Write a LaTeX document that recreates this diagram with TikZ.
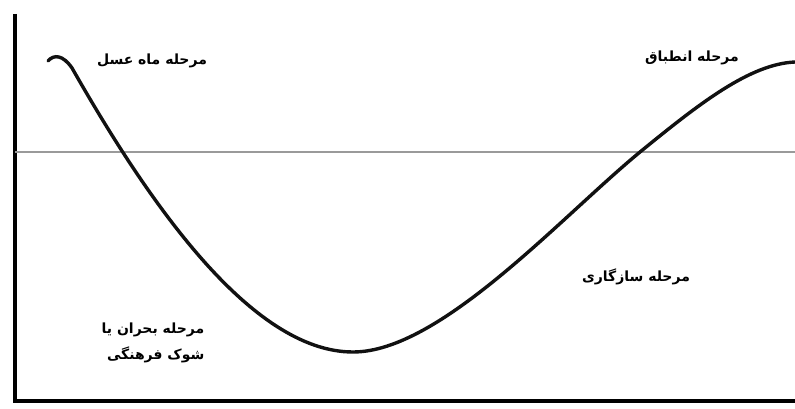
\documentclass[tikz,border=0pt]{standalone}
\usepackage{fontspec}
\newfontfamily\arabicfont[Script=Arabic]{DejaVu Sans}
\TeXXeTstate=1
\usepackage{tikz}
\definecolor{cCurve}{HTML}{111111}
\definecolor{cMid}{HTML}{9A9A9A}
\tikzset{
  axisline/.style={line width=4.5pt, draw=black},
  midline/.style={line width=1.4pt, draw=cMid},
  curveline/.style={line width=3.4pt, draw=cCurve, line cap=round},
  phase/.style={font=\arabicfont\bfseries\fontsize{14}{26}\selectfont, align=right, inner sep=1pt},
}
\begin{document}
\begin{tikzpicture}[x=1pt, y=-1pt]
\useasboundingbox (0,0) rectangle (795,409);
% axes
\coordinate (top) at (15,14);
\coordinate (origin) at (15,401);
\coordinate (xend) at (795,401);
\draw[axisline] (top) -- (origin) -- (xend);
% reference level
\coordinate (midL) at (15,152);
\coordinate (midR) at (795,152);
\draw[midline] (midL) -- (midR);
% adjustment curve
\coordinate (start) at (48,61);
\coordinate (hook) at (72,68);
\coordinate (low) at (353,352);
\coordinate (cross) at (640,152);
\coordinate (stop) at (795,62);
\draw[curveline] (start) .. controls (54,54) and (63,55) .. (hook)
  .. controls (146,198) and (250,352) .. (low)
  .. controls (440,352) and (560,218) .. (cross)
  .. controls (700,103) and (750,64) .. (stop);
% phase labels
\node[phase] (honey) at (152,61) {\beginR مرحله ماه عسل\endR};
\node[phase] (adapt) at (692,58) {\beginR مرحله انطباق\endR};
\node[phase] (adjust) at (636,277) {\beginR مرحله سازگاری\endR};
\node[phase] (crisis) at (153,343) {\beginR مرحله بحران یا\endR\\\beginR شوک فرهنگی\endR};
\end{tikzpicture}
\end{document}
